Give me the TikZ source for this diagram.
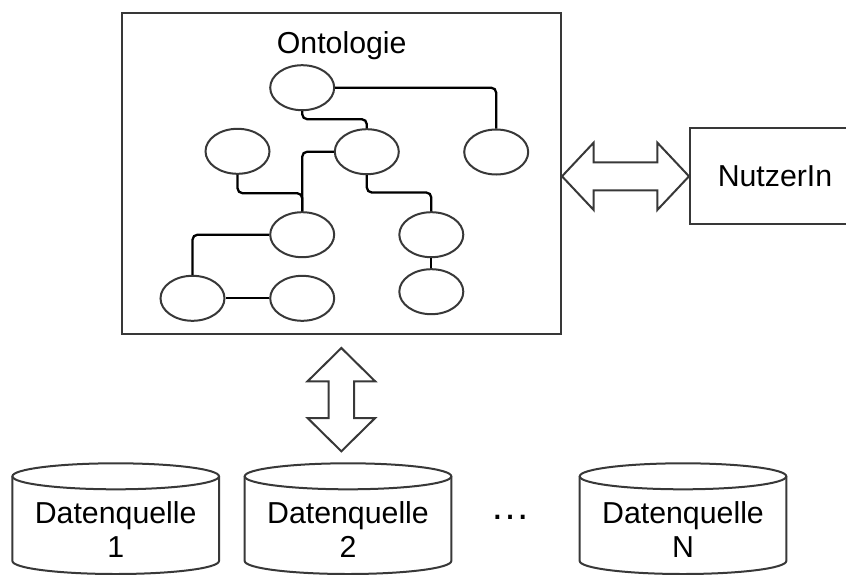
\documentclass[tikz,border=0pt]{standalone}
\usepackage{fontspec}
\setmainfont{Liberation Sans}
\usetikzlibrary{shapes.geometric,calc}
\begin{document}
\begin{tikzpicture}[x=1pt,y=-1pt,
  outline/.style={draw=black!78, line width=2pt},
  concept/.style={ellipse, outline, fill=white, minimum width=64pt, minimum height=45pt, inner sep=0pt},
  conn/.style={draw=black, line width=2.3pt, rounded corners=5pt},
  lbl/.style={font=\fontsize{30.3}{34}\selectfont, inner sep=0pt},
  dblarrow/.style={outline, fill=white, line join=miter},
  cylbody/.style={outline, fill=white},
  ]
\useasboundingbox (0,0) rectangle (846,574);
\clip (0,0) rectangle (846,574);

% ontology frame
\node[outline, minimum width=439.3pt, minimum height=321.3pt, inner sep=0pt] (onto) at (341.35,173.35) {};
\node[lbl, anchor=base] (ontolabel) at (341.7,53.3) {Ontologie};

% concepts
\node[concept] (e1) at (302.2,87.7) {};
\node[concept] (e2) at (237.5,151.3) {};
\node[concept] (e3) at (366.8,151.7) {};
\node[concept] (e4) at (496.2,152) {};
\node[concept] (e5) at (302.2,234.7) {};
\node[concept] (e6) at (431.3,234.7) {};
\node[concept] (e7) at (192.5,298.3) {};
\node[concept] (e8) at (302.2,298.3) {};
\node[concept] (e9) at (431.3,291.7) {};

% relations
\draw[conn] (e1.east) -| (e4.north);
\draw[conn] (e1.south) |- ([yshift=9pt]e3.north) -- (e3.north);
\draw[conn] (e3.west) -| (e5.north);
\draw[conn] (e2.south) |- ([yshift=18pt]e5.north) -- (e5.north);
\draw[conn] (e3.south) |- ([yshift=18.7pt]e6.north) -- (e6.north);
\draw[conn] (e5.west) -| (e7.north);
\draw[conn] (e7) -- (e8);
\draw[conn] (e6) -- (e9);

% user
\node[outline, lbl, minimum width=170pt, minimum height=96pt] (nutzer) at (775,176.3) {NutzerIn};

% horizontal double arrow
\coordinate (ha) at (onto.east |- nutzer.west);
\draw[dblarrow] (ha) -- ++(31.7,-33.7) -- ++(0,19.7) -- ($(nutzer.west)+(-31.7,-14)$) -- ++(0,-19.7)
  -- (nutzer.west) -- ++(-31.7,33.7) -- ++(0,-19.7) -- ($(ha)+(31.7,14)$) -- ++(0,19.7) -- cycle;

% data sources
\coordinate (c1) at (115.7,476.3);
\coordinate (c2) at (348,476.3);
\coordinate (cn) at (683,476.3);
\foreach \c in {c1,c2,cn}{
  \draw[cylbody] ([xshift=-103.3pt]\c) -- ++(0,84.7)
     arc[start angle=180, end angle=360, x radius=103.3pt, y radius=13pt] -- ++(0,-84.7);
  \draw[outline] (\c) ellipse [x radius=103.3pt, y radius=13pt];
}
\node[lbl, align=center, anchor=north] (d1) at ([yshift=-24.6pt]c1) {Datenquelle\\1};
\node[lbl, align=center, anchor=north] (d2) at ([yshift=-24.6pt]c2) {Datenquelle\\2};
\node[lbl, align=center, anchor=north] (dn) at ([yshift=-24.6pt]cn) {Datenquelle\\N};
\node[font=\fontsize{40}{40}\selectfont, inner sep=0pt, anchor=base] (dots) at (510.8,519.5) {…};

% vertical double arrow
\coordinate (vt) at ([yshift=-13pt]onto.south);
\coordinate (vb) at ([yshift=25pt]onto.south |- c2);
\draw[dblarrow] (vt) -- ++(33.8,33.3) -- ++(-21,0) -- ($(vb)+(12.8,-33.3)$) -- ++(21,0)
  -- (vb) -- ++(-33.8,-33.3) -- ++(21,0) -- ($(vt)+(-12.8,33.3)$) -- ++(-21,0) -- cycle;
\end{tikzpicture}
\end{document}
